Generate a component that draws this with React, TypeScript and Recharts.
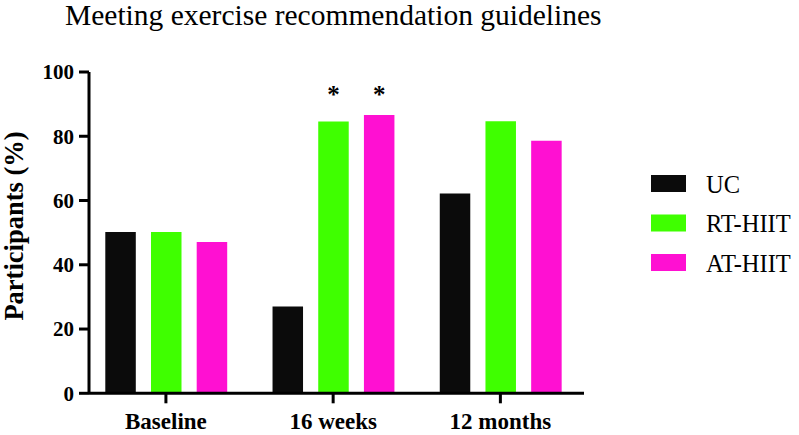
import React from 'react';
import { BarChart, Bar, XAxis, YAxis, LabelList } from 'recharts';

const timepoints = ['Baseline', '16 weeks', '12 months'];
const ucValues = [50.2, 27, 62.2];
const rtValues = [50.2, 84.6, 84.7];
const atValues = [47.1, 86.6, 78.6];
const rtMarks = ['', '*', ''];
const atMarks = ['', '*', ''];
const yTicks = [0, 20, 40, 60, 80, 100];
// height (in %) at which the significance stars sit
const markLevel = 94;

const SERIF = '"Liberation Serif", "Times New Roman", serif';

const series = [
  { key: 'uc', name: 'UC', color: '#0b0b0b' },
  { key: 'rt', name: 'RT-HIIT', color: '#3fff00' },
  { key: 'at', name: 'AT-HIIT', color: '#ff10d2' },
];

const data = timepoints.map((time, i) => ({
  time,
  uc: ucValues[i],
  rt: rtValues[i],
  at: atValues[i],
  rtMark: rtMarks[i],
  atMark: atMarks[i],
}));

const starLabel = (values: number[]) => (props: any) => {
  const { value, index } = props;
  if (!value) return null;
  const vb = props.viewBox ?? props;
  const { x, y, width, height } = vb;
  const base = y + height;
  const cy = base - (height / values[index]) * markLevel;
  return (
    <text
      x={x + width / 2}
      y={cy + 12}
      textAnchor="middle"
      fontSize={25}
      fontWeight="bold"
      fontFamily={SERIF}
      fill="#000"
    >
      {value}
    </text>
  );
};

const App: React.FC = () => {
  return (
    <div
      style={{
        position: 'absolute',
        left: 0,
        top: 0,
        width: 799,
        height: 435,
        background: '#fff',
        fontFamily: SERIF,
      }}
    >
      <div
        style={{
          position: 'absolute',
          left: 65,
          top: -1,
          fontSize: 29.5,
          lineHeight: '33px',
          whiteSpace: 'nowrap',
          color: '#000',
        }}
      >
        Meeting exercise recommendation guidelines
      </div>

      <BarChart
        width={799}
        height={435}
        data={data}
        margin={{ top: 72, right: 215, bottom: 11.7, left: 29 }}
        barSize={30.5}
        barGap={15.2}
      >
        <XAxis
          dataKey="time"
          height={30}
          interval={0}
          padding={{ left: -6.7, right: 0 }}
          axisLine={{ stroke: '#000', strokeWidth: 3 }}
          tickLine={{ stroke: '#000', strokeWidth: 3 }}
          tickSize={10}
          tickMargin={9}
          tick={{ fill: '#000', fontSize: 23, fontWeight: 'bold', fontFamily: SERIF }}
        />
        <YAxis
          width={60}
          domain={[0, 100]}
          ticks={yTicks}
          interval={0}
          axisLine={{ stroke: '#000', strokeWidth: 3 }}
          tickLine={{ stroke: '#000', strokeWidth: 3 }}
          tickSize={10}
          tickMargin={5}
          tick={{ fill: '#000', fontSize: 21, fontWeight: 'bold', fontFamily: SERIF }}
        />
        <Bar dataKey="uc" fill={series[0].color} isAnimationActive={false} />
        <Bar dataKey="rt" fill={series[1].color} isAnimationActive={false}>
          <LabelList dataKey="rtMark" content={starLabel(rtValues)} />
        </Bar>
        <Bar dataKey="at" fill={series[2].color} isAnimationActive={false}>
          <LabelList dataKey="atMark" content={starLabel(atValues)} />
        </Bar>
      </BarChart>

      <svg
        width={799}
        height={435}
        style={{ position: 'absolute', left: 0, top: 0, pointerEvents: 'none' }}
      >
        <text
          x={23}
          y={226}
          transform="rotate(-90, 23, 226)"
          textAnchor="middle"
          fontSize={26.5}
          fontWeight="bold"
          fontFamily={SERIF}
          fill="#000"
        >
          Participants (%)
        </text>
        {series.map((s, i) => (
          <g key={s.key}>
            <rect x={651} y={175 + i * 39.5} width={35} height={17} fill={s.color} />
            <text
              x={706}
              y={192.5 + i * 39.5}
              fontSize={24.5}
              fontFamily={SERIF}
              fill="#000"
            >
              {s.name}
            </text>
          </g>
        ))}
      </svg>
    </div>
  );
};

export default App;
